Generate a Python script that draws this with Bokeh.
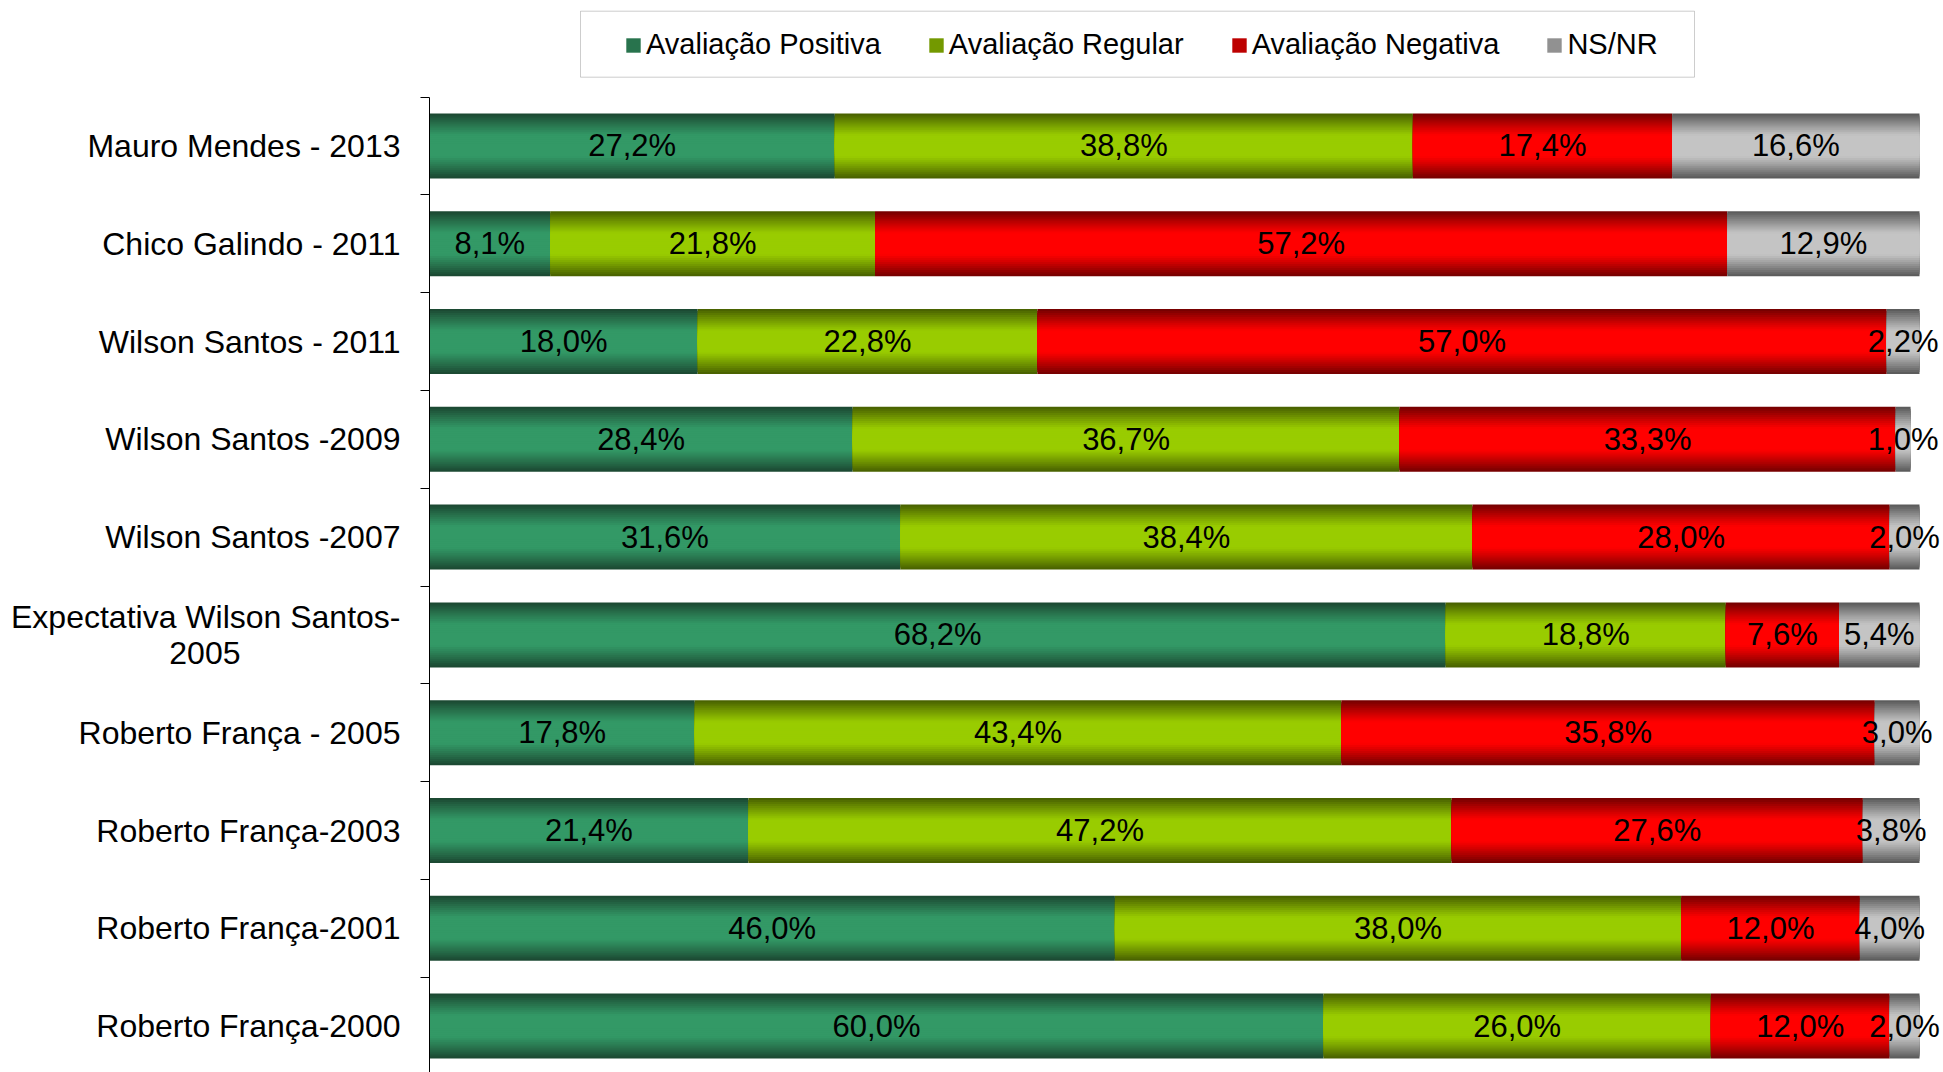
import numpy as np
from bokeh.plotting import figure
from bokeh.models import (ColumnDataSource, Range1d, FixedTicker, Legend, LegendItem,
                          BoxAnnotation)
from bokeh.core.properties import value
from bokeh.embed import file_html
from bokeh.resources import INLINE

# ---------------- data ----------------
NB = "\u00a0"
categories = [
    "Mauro Mendes - 2013",
    "Chico Galindo - 2011",
    "Wilson Santos - 2011",
    "Wilson Santos -2009",
    "Wilson Santos -2007",
    "Expectativa Wilson Santos-\n2005" + NB * 18,
    "Roberto França - 2005",
    "Roberto França-2003",
    "Roberto França-2001",
    "Roberto França-2000",
]
positiva = [27.2, 8.1, 18.0, 28.4, 31.6, 68.2, 17.8, 21.4, 46.0, 60.0]
regular = [38.8, 21.8, 22.8, 36.7, 38.4, 18.8, 43.4, 47.2, 38.0, 26.0]
negativa = [17.4, 57.2, 57.0, 33.3, 28.0, 7.6, 35.8, 27.6, 12.0, 12.0]
nsnr = [16.6, 12.9, 2.2, 1.0, 2.0, 5.4, 3.0, 3.8, 4.0, 2.0]
series_names = ["Avaliação Positiva", "Avaliação Regular", "Avaliação Negativa", "NS/NR"]

# ---------------- styles ----------------
mid_colors = ["#339966", "#99CC00", "#FF0000", "#C4C4C4"]
dark_colors = ["#1C4A33", "#4A6300", "#780000", "#5C5C5C"]
FONT = "Liberation Sans"
BAR_H = 0.665
N_LAYERS = 16


def hex2rgb(h):
    h = h.lstrip("#")
    return np.array([int(h[i:i + 2], 16) for i in (0, 2, 4)], dtype=float)


def shade(mid, dark, d):
    t = min(1.0, max(0.0, (d - 0.35) / 0.65))
    t = t ** 1.1
    c = hex2rgb(mid) * (1 - t) + hex2rgb(dark) * t
    return "#%02x%02x%02x" % tuple(int(round(v)) for v in c)


n_cat = len(categories)
ypos = [n_cat - 1 - i for i in range(n_cat)]
all_series = [positiva, regular, negativa, nsnr]
vals = np.array(all_series)
rights = np.cumsum(vals, axis=0)
lefts = rights - vals

# ---------------- layout ----------------
W, H = 1943, 1072
BORDER_L = 429
frame_w = W - BORDER_L
frame_h = H
px_per_unit = 14.9
band_px = 97.8
top_gap_px = 96.5          # space above the first category band (legend area)
y_top = n_cat - 0.5 + top_gap_px / band_px
y_bot = y_top - frame_h / band_px

p = figure(
    width=W, height=H,
    output_backend="svg", toolbar_location=None,
    x_range=Range1d(0, frame_w / px_per_unit),
    y_range=Range1d(y_bot, y_top),
    x_axis_location=None,
    min_border_left=BORDER_L, min_border_right=0,
    min_border_top=0, min_border_bottom=0,
)
p.outline_line_color = None
p.xgrid.visible = False
p.ygrid.visible = False
p.background_fill_color = "white"
p.border_fill_color = "white"

legend_renderers = []
for s in range(4):
    src = ColumnDataSource(dict(y=ypos, left=lefts[s], right=rights[s]))
    rep = None
    for k in range(N_LAYERS):
        d = 1 - k / N_LAYERS
        r = p.hbar(y="y", left="left", right="right", height=BAR_H * d, source=src,
                   fill_color=shade(mid_colors[s], dark_colors[s], d), line_color=None)
        if k == N_LAYERS // 3:
            rep = r
    legend_renderers.append(rep)

# value labels
lx, ly, lt = [], [], []
for s in range(4):
    for i in range(n_cat):
        lx.append((lefts[s][i] + rights[s][i]) / 2)
        ly.append(ypos[i])
        lt.append(("%.1f" % all_series[s][i]).replace(".", ",") + "%")
p.text(x="x", y="y", text="t", source=ColumnDataSource(dict(x=lx, y=ly, t=lt)),
       text_font=value(FONT), text_font_size=value("31px"), text_color="#000000",
       text_align="center", text_baseline="middle")

# y axis
ax = p.yaxis[0]
ax.ticker = FixedTicker(ticks=ypos, minor_ticks=[i + 0.5 for i in range(-1, n_cat)])
ax.bounds = (y_bot, n_cat - 0.5)
ax.major_label_overrides = {y: c for y, c in zip(ypos, categories)}
ax.major_tick_out = 0
ax.major_tick_in = 0
ax.minor_tick_out = 9
ax.minor_tick_in = 0
ax.minor_tick_line_color = "#000000"
ax.axis_line_color = "#000000"
ax.axis_line_width = 1
ax.major_label_standoff = 20
ax.major_label_text_font = FONT
ax.major_label_text_font_size = "32px"
ax.major_label_text_color = "#000000"
ax.major_label_text_line_height = 1.0

# legend frame (page pixels -> data units)
LB_L, LB_R, LB_T, LB_B = 580, 1694, 10.7, 76.7
box = BoxAnnotation(
    left=(LB_L - BORDER_L) / px_per_unit, right=(LB_R - BORDER_L) / px_per_unit,
    top=y_top - LB_T / band_px, bottom=y_top - LB_B / band_px,
    fill_color="white", fill_alpha=1.0, line_color="#5A5A5A", line_width=1,
    level="annotation",
)
p.add_layout(box)

legend = Legend(
    items=[LegendItem(label=n, renderers=[r]) for n, r in zip(series_names, legend_renderers)],
    orientation="horizontal",
    location=(624 - BORDER_L, H - 61),
    label_text_font=FONT, label_text_font_size="29px", label_text_color="#000000",
    glyph_width=18, glyph_height=18, label_standoff=4, spacing=46,
    padding=0, margin=0,
    border_line_color=None, background_fill_alpha=0.0,
)
p.add_layout(legend, "center")

open("out.html", "w").write(file_html(p, INLINE))
